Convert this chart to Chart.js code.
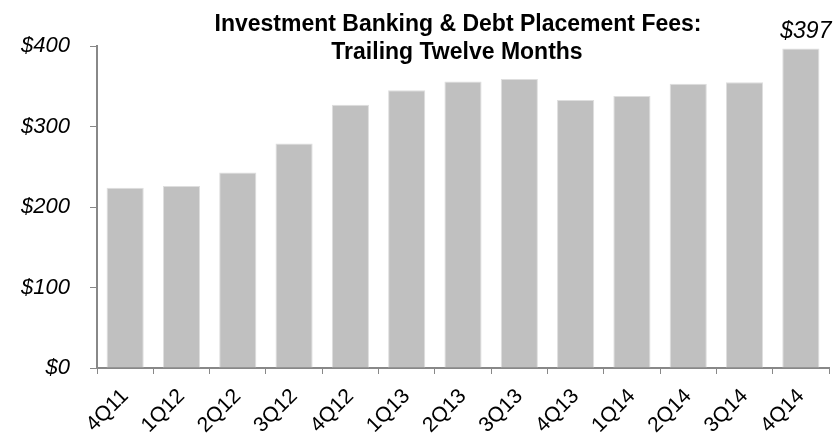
<!DOCTYPE html>
<html>
<head>
<meta charset="utf-8">
<script src="https://cdn.jsdelivr.net/npm/chart.js@4/dist/chart.umd.min.js"></script>
<style>
  html, body { margin: 0; padding: 0; background: #fff; }
  #wrap { width: 835px; height: 441px; }
</style>
</head>
<body>
<div id="wrap"><canvas id="feesChart" width="835" height="441"></canvas></div>
<script>
// Trailing twelve month fees, $ millions
const quarters = ['4Q11', '1Q12', '2Q12', '3Q12', '4Q12', '1Q13', '2Q13', '3Q13', '4Q13', '1Q14', '2Q14', '3Q14', '4Q14'];
const feesTTM = [224, 226, 243, 279, 327, 345, 356, 359, 333, 338, 353, 355, 397];
const yTicks = [0, 100, 200, 300, 400];
const titleLines = ['Investment Banking & Debt Placement Fees:', 'Trailing Twelve Months'];

const AXIS_GRAY = '#888888';
const FONT = '"Liberation Sans", Arial, sans-serif';

// Two-line title drawn over the top of the plot area
const titlePlugin = {
  id: 'overlayTitle',
  afterDraw(chart) {
    const { ctx } = chart;
    ctx.save();
    ctx.font = `bold 23px ${FONT}`;
    ctx.fillStyle = '#000';
    ctx.textAlign = 'center';
    ctx.textBaseline = 'alphabetic';
    ctx.fillText(titleLines[0], 458, 31);
    ctx.fillText(titleLines[1], 457, 59);
    ctx.restore();
  }
};

// Value label above the latest quarter only
const lastValuePlugin = {
  id: 'lastValue',
  afterDatasetsDraw(chart) {
    const { ctx } = chart;
    const meta = chart.getDatasetMeta(0);
    const i = feesTTM.length - 1;
    const bar = meta.data[i];
    ctx.save();
    ctx.font = `italic 23px ${FONT}`;
    ctx.fillStyle = '#000';
    ctx.textAlign = 'center';
    ctx.textBaseline = 'alphabetic';
    ctx.fillText('$' + feesTTM[i], bar.x + 5, bar.y - 10);
    ctx.restore();
  }
};

new Chart(document.getElementById('feesChart'), {
  type: 'bar',
  data: {
    labels: quarters,
    datasets: [{
      data: feesTTM,
      backgroundColor: '#c0c0c0',
      borderColor: '#dedede',
      borderWidth: 1,
      categoryPercentage: 1,
      barPercentage: 0.66
    }]
  },
  options: {
    responsive: false,
    animation: false,
    layout: { padding: { top: 46, right: 6, left: 0, bottom: 0 } },
    plugins: {
      legend: { display: false },
      tooltip: { enabled: false },
      title: { display: false }
    },
    scales: {
      x: {
        grid: { display: true, drawOnChartArea: false, drawTicks: true, tickLength: 6, color: AXIS_GRAY, offset: true },
        border: { display: true, color: AXIS_GRAY, width: 2 },
        ticks: {
          color: '#000',
          font: { family: FONT, size: 21 },
          minRotation: 45,
          maxRotation: 45,
          padding: 10
        },
        afterFit(scale) { scale.height = 73; }
      },
      y: {
        min: 0,
        max: 400,
        afterBuildTicks(scale) { scale.ticks = yTicks.map(v => ({ value: v })); },
        grid: { display: true, drawOnChartArea: false, drawTicks: true, tickLength: 7, color: AXIS_GRAY },
        border: { display: true, color: AXIS_GRAY, width: 2 },
        ticks: {
          color: '#000',
          font: { family: FONT, size: 22, style: 'italic' },
          padding: 20,
          callback: v => '$' + v
        },
        afterFit(scale) { scale.width = 97; }
      }
    }
  },
  plugins: [titlePlugin, lastValuePlugin]
});
</script>
</body>
</html>
